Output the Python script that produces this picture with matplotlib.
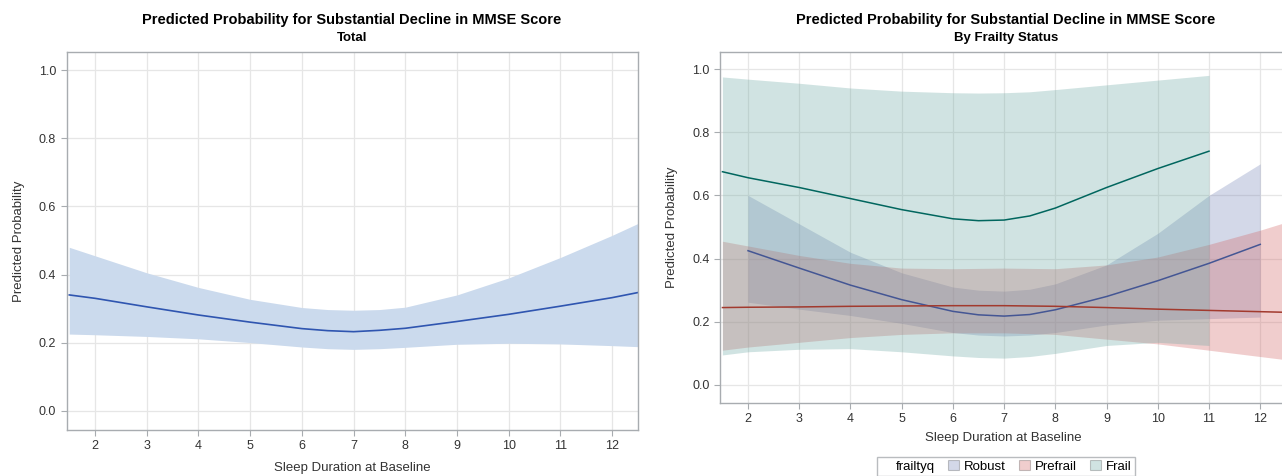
import numpy as np
import matplotlib.pyplot as plt
from matplotlib.patches import Patch
from matplotlib.lines import Line2D

plt.rcParams['font.family'] = ['Liberation Sans', 'DejaVu Sans']

# Total model: sleep duration vs predicted probability
tot_x = [1.5, 2, 3, 4, 5, 6, 6.5, 7, 7.5, 8, 9, 10, 11, 12, 12.5]
tot_y = [0.340, 0.330, 0.305, 0.281, 0.260, 0.241, 0.235, 0.232, 0.236, 0.242, 0.262, 0.283, 0.307, 0.332, 0.347]
tot_hi = [0.480, 0.455, 0.405, 0.362, 0.327, 0.303, 0.297, 0.295, 0.297, 0.304, 0.340, 0.390, 0.450, 0.515, 0.550]
tot_lo = [0.225, 0.223, 0.218, 0.211, 0.200, 0.187, 0.182, 0.180, 0.182, 0.186, 0.195, 0.198, 0.196, 0.191, 0.188]

# By frailty status
rob_x = [2, 3, 4, 5, 6, 6.5, 7, 7.5, 8, 9, 10, 11, 12]
rob_y = [0.425, 0.370, 0.316, 0.270, 0.233, 0.222, 0.218, 0.223, 0.238, 0.280, 0.330, 0.385, 0.445]
rob_hi = [0.600, 0.510, 0.420, 0.355, 0.310, 0.300, 0.297, 0.303, 0.320, 0.380, 0.480, 0.600, 0.700]
rob_lo = [0.262, 0.240, 0.220, 0.195, 0.166, 0.158, 0.155, 0.158, 0.166, 0.190, 0.205, 0.210, 0.215]

pre_x = [1.5, 2, 3, 4, 5, 6, 7, 8, 9, 10, 11, 12, 12.5]
pre_y = [0.245, 0.246, 0.247, 0.249, 0.250, 0.251, 0.251, 0.249, 0.245, 0.240, 0.236, 0.232, 0.230]
pre_hi = [0.455, 0.440, 0.410, 0.385, 0.370, 0.368, 0.370, 0.368, 0.380, 0.405, 0.445, 0.490, 0.515]
pre_lo = [0.110, 0.120, 0.135, 0.150, 0.160, 0.165, 0.165, 0.160, 0.145, 0.130, 0.110, 0.090, 0.080]

fra_x = [1.5, 2, 3, 4, 5, 6, 6.5, 7, 7.5, 8, 9, 10, 11]
fra_y = [0.675, 0.656, 0.625, 0.590, 0.555, 0.526, 0.520, 0.522, 0.535, 0.560, 0.625, 0.685, 0.740]
fra_hi = [0.975, 0.968, 0.955, 0.940, 0.930, 0.925, 0.924, 0.925, 0.928, 0.935, 0.950, 0.965, 0.980]
fra_lo = [0.095, 0.105, 0.113, 0.115, 0.105, 0.092, 0.087, 0.085, 0.090, 0.100, 0.125, 0.135, 0.125]

groups = ['Robust', 'Prefrail', 'Frail']
line_cols = ['#445694', '#A23A2E', '#01665E']
fill_cols = ['#6F7EB3', '#D05B5B', '#66A5A0']

title = 'Predicted Probability for Substantial Decline in MMSE Score'
xticks = list(range(2, 13))
yticks = [0.0, 0.2, 0.4, 0.6, 0.8, 1.0]

fig = plt.figure(figsize=(12.82, 4.76), dpi=100)
ax1 = fig.add_axes([0.0520, 0.0966, 0.4456, 0.7942])
ax2 = fig.add_axes([0.5615, 0.1534, 0.4415, 0.7374])


def style(ax, xpad):
    ax.set_xlim(1.45, 12.5)
    ax.set_ylim(-0.057, 1.054)
    ax.set_xticks(xticks)
    ax.set_yticks(yticks)
    ax.set_yticklabels(['%.1f' % v for v in yticks])
    ax.grid(True, color='#e6e6e6', lw=0.9)
    ax.set_axisbelow(True)
    for s in ax.spines.values():
        s.set_color('#a8acb0')
        s.set_linewidth(1.0)
    ax.tick_params(colors='#333333', labelsize=9, length=4, width=0.8)
    ax.tick_params(axis='both', color='#a8acb0')
    ax.set_xlabel('Sleep Duration at Baseline', fontsize=9.5, color='#333333', labelpad=xpad)
    ax.set_ylabel('Predicted Probability', fontsize=9.5, color='#333333', labelpad=10)


style(ax1, 7)
ax1.fill_between(tot_x, tot_lo, tot_hi, color='#cbdaed', lw=0)
ax1.plot(tot_x, tot_y, color='#2f55b0', lw=1.2)
fig.text(352 / 1282, 1 - 20 / 476, title, ha='center', va='center', fontsize=10.5, fontweight='bold')
fig.text(352 / 1282, 1 - 38 / 476, 'Total', ha='center', va='center', fontsize=9.5, fontweight='bold')

style(ax2, 5)
data = [(rob_x, rob_y, rob_lo, rob_hi), (pre_x, pre_y, pre_lo, pre_hi), (fra_x, fra_y, fra_lo, fra_hi)]
for (x, y, lo, hi), fc in zip(data, fill_cols):
    ax2.fill_between(x, lo, hi, color=fc, alpha=0.3, lw=0)
for (x, y, lo, hi), lc in zip(data, line_cols):
    ax2.plot(x, y, color=lc, lw=1.1)
ax2.spines['right'].set_visible(False)
fig.text(1006 / 1282, 1 - 20 / 476, title, ha='center', va='center', fontsize=10.5, fontweight='bold')
fig.text(1006 / 1282, 1 - 38 / 476, 'By Frailty Status', ha='center', va='center', fontsize=9.5, fontweight='bold')

handles = [Line2D([], [], lw=0)]
labels = ['frailtyq']
for g, fc in zip(groups, fill_cols):
    handles.append(Patch(facecolor=fc, alpha=0.3, edgecolor='#444444', lw=0.8))
    labels.append(g)
leg = fig.legend(handles, labels, loc='upper center', bbox_to_anchor=(1006 / 1282, 1 - 457 / 476),
                 ncol=4, fontsize=9.5, frameon=True, fancybox=False, handlelength=0.8,
                 handleheight=0.8, handletextpad=0.4, columnspacing=1.0, borderpad=0.25,
                 borderaxespad=0)
leg.get_frame().set_edgecolor('#a8acb0')
for h in leg.legend_handles[1:]:
    h.set_edgecolor('#444444')

fig.savefig('out.png', dpi=100)
